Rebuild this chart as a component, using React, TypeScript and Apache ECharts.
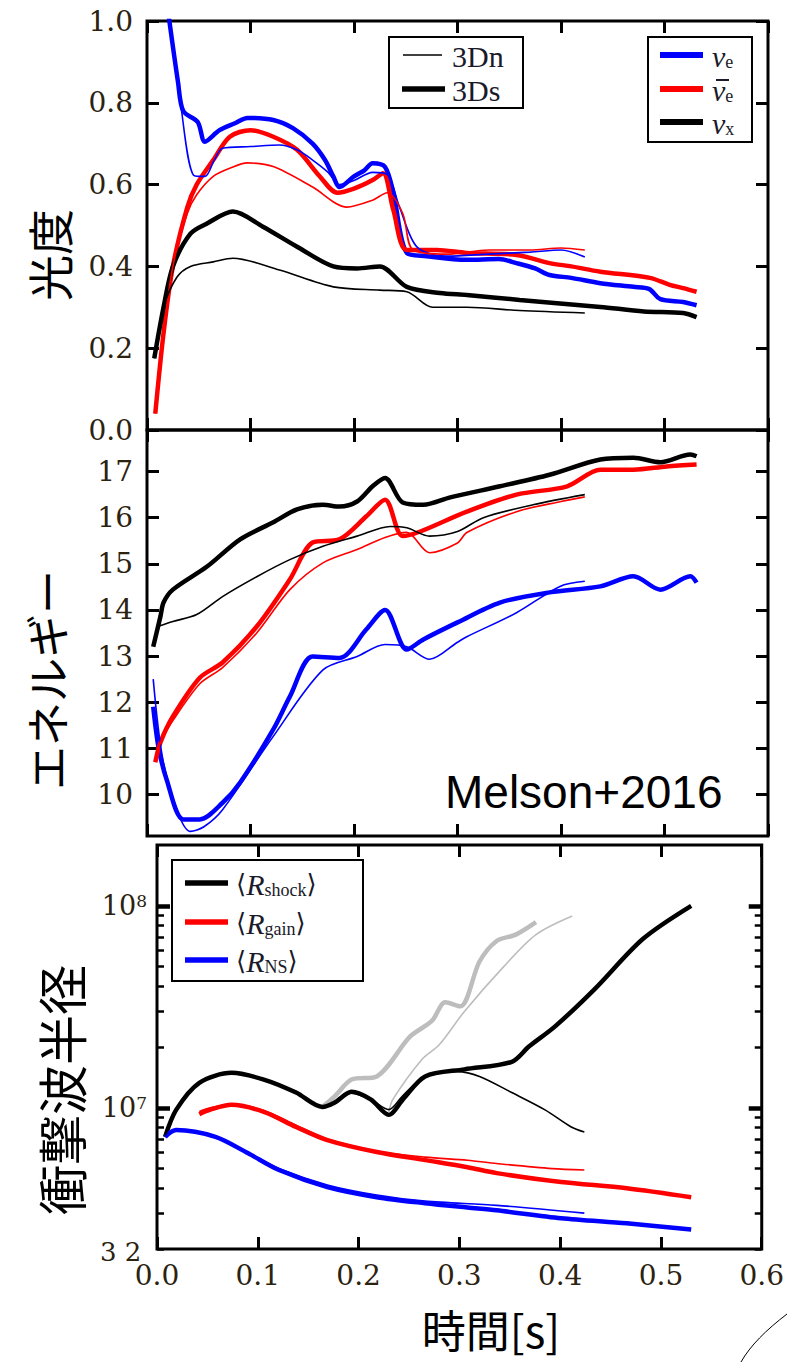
import React, { useEffect, useRef } from 'react';
import * as echarts from 'echarts';

// ---------- axis ticks ----------
const timeTicks = [0, 0.1, 0.2, 0.3, 0.4, 0.5, 0.6];
const energyTicks = [10, 11, 12, 13, 14, 15, 16, 17];
const radiusMajor = [7, 8]; // log10 of 1e7, 1e8
const radiusMinorFactors = [2, 3, 4, 5, 6, 7, 8, 9];

// ---------- luminosity panel ----------
const lumNueThickT = [0.020,0.030,0.035,0.049,0.056,0.070,0.085,0.097,0.122,0.141,0.160,0.172,0.180,0.186,0.200,0.210,0.218,0.230,0.238,0.251,0.270,0.309,0.340,0.357,0.375,0.389,0.410,0.438,0.470,0.485,0.496,0.518,0.531];
const lumNueThickV = [1.03,0.85,0.78,0.753,0.705,0.733,0.750,0.763,0.758,0.738,0.700,0.660,0.620,0.594,0.620,0.635,0.652,0.643,0.580,0.433,0.425,0.416,0.418,0.408,0.395,0.379,0.372,0.359,0.350,0.345,0.320,0.313,0.305];
const lumNueThinT = [0.020,0.032,0.045,0.056,0.065,0.073,0.100,0.128,0.145,0.160,0.175,0.186,0.200,0.218,0.232,0.244,0.261,0.290,0.330,0.370,0.400,0.423];
const lumNueThinV = [1.03,0.807,0.623,0.620,0.660,0.689,0.693,0.697,0.685,0.660,0.630,0.600,0.610,0.630,0.625,0.545,0.447,0.425,0.430,0.435,0.440,0.423];
const lumNuebThickT = [0.008,0.016,0.025,0.039,0.048,0.064,0.080,0.100,0.122,0.145,0.167,0.184,0.200,0.218,0.228,0.238,0.251,0.280,0.309,0.357,0.389,0.410,0.438,0.486,0.505,0.518,0.531];
const lumNuebThickV = [0.04,0.237,0.40,0.545,0.60,0.66,0.717,0.733,0.717,0.685,0.62,0.58,0.59,0.611,0.628,0.538,0.44,0.44,0.433,0.428,0.408,0.40,0.387,0.372,0.355,0.347,0.338];
const lumNuebThinT = [0.008,0.016,0.025,0.039,0.048,0.064,0.080,0.097,0.122,0.160,0.193,0.218,0.232,0.247,0.257,0.290,0.330,0.370,0.400,0.423];
const lumNuebThinV = [0.04,0.237,0.40,0.53,0.575,0.62,0.64,0.653,0.644,0.594,0.545,0.562,0.58,0.53,0.44,0.43,0.44,0.44,0.445,0.44];
const lumNuxThickT = [0.007,0.016,0.025,0.042,0.058,0.083,0.112,0.145,0.180,0.203,0.225,0.251,0.283,0.309,0.360,0.438,0.480,0.518,0.531];
const lumNuxThickV = [0.175,0.30,0.40,0.48,0.505,0.534,0.497,0.448,0.40,0.395,0.40,0.35,0.335,0.33,0.318,0.301,0.29,0.286,0.276];
const lumNuxThinT = [0.007,0.016,0.029,0.042,0.064,0.083,0.128,0.180,0.225,0.251,0.276,0.309,0.360,0.423];
const lumNuxThinV = [0.175,0.30,0.374,0.40,0.411,0.42,0.391,0.35,0.342,0.338,0.30,0.30,0.292,0.286];

// ---------- mean energy panel ----------
const enNueThickT = [0.006,0.011,0.019,0.035,0.051,0.073,0.090,0.122,0.138,0.160,0.186,0.212,0.230,0.251,0.267,0.300,0.341,0.389,0.438,0.470,0.496,0.525,0.531];
const enNueThickV = [11.9,11.04,10.32,9.46,9.46,9.82,10.26,11.41,12.12,12.99,12.96,13.58,14.0,13.14,13.36,13.73,14.16,14.38,14.51,14.73,14.44,14.73,14.59];
const enNueThinT = [0.006,0.015,0.030,0.042,0.055,0.073,0.122,0.170,0.203,0.230,0.251,0.273,0.300,0.309,0.357,0.399,0.423];
const enNueThinV = [12.5,10.8,9.6,9.2,9.3,9.67,11.26,12.7,12.99,13.25,13.2,12.93,13.3,13.42,13.94,14.51,14.62];
const enNuebThickT = [0.008,0.013,0.025,0.051,0.073,0.106,0.138,0.160,0.186,0.212,0.230,0.247,0.264,0.309,0.357,0.406,0.438,0.470,0.502,0.531];
const enNuebThickV = [10.7,11.13,11.69,12.53,12.86,13.64,14.66,15.46,15.53,16.03,16.39,15.6,15.7,16.13,16.5,16.68,17.04,17.04,17.11,17.15];
const enNuebThinT = [0.008,0.013,0.025,0.051,0.073,0.106,0.138,0.170,0.203,0.230,0.251,0.273,0.300,0.309,0.357,0.400,0.423];
const enNuebThinV = [10.7,11.13,11.6,12.4,12.75,13.5,14.44,15.02,15.31,15.57,15.68,15.24,15.45,15.68,16.13,16.35,16.45];
const enNuxThickT = [0.006,0.013,0.016,0.025,0.058,0.090,0.122,0.145,0.170,0.186,0.203,0.218,0.230,0.247,0.267,0.293,0.341,0.389,0.438,0.470,0.496,0.525,0.531];
const enNuxThickV = [13.2,13.86,14.16,14.44,14.94,15.53,15.9,16.18,16.28,16.24,16.35,16.68,16.86,16.33,16.28,16.44,16.68,16.93,17.26,17.3,17.2,17.37,17.33];
const enNuxThinT = [0.010,0.025,0.048,0.073,0.106,0.138,0.170,0.203,0.235,0.251,0.273,0.300,0.325,0.373,0.423];
const enNuxThinV = [13.64,13.75,13.9,14.29,14.72,15.09,15.38,15.6,15.81,15.78,15.6,15.7,16.0,16.28,16.5];

// ---------- radius panel ----------
const rShockThickT = [0.008,0.019,0.042,0.074,0.106,0.138,0.164,0.176,0.193,0.212,0.230,0.244,0.266,0.305,0.352,0.369,0.395,0.434,0.482,0.530];
const rShockThickV = [7.18e6,9.77e6,1.33e7,1.49e7,1.38e7,1.19e7,1.01e7,1.06e7,1.20e7,1.10e7,9.23e6,1.10e7,1.43e7,1.55e7,1.69e7,2.01e7,2.53e7,3.86e7,6.85e7,1.0e8];
const rShockThinT = [0.008,0.019,0.042,0.074,0.106,0.138,0.164,0.176,0.193,0.212,0.230,0.244,0.266,0.298,0.320,0.352,0.385,0.411,0.424];
const rShockThinV = [7.18e6,9.77e6,1.33e7,1.49e7,1.38e7,1.19e7,1.01e7,1.06e7,1.18e7,1.10e7,9.8e6,1.15e7,1.43e7,1.51e7,1.43e7,1.19e7,9.77e6,8.04e6,7.59e6];
const rGrayThickT = [0.164,0.176,0.193,0.218,0.251,0.273,0.286,0.301,0.320,0.337,0.356,0.376];
const rGrayThickV = [1.01e7,1.135e7,1.38e7,1.43e7,2.25e7,2.7e7,3.33e7,3.18e7,5.3e7,6.7e7,7.2e7,8.3e7];
const rGrayThinT = [0.230,0.234,0.263,0.280,0.305,0.344,0.376,0.412];
const rGrayThinV = [9.5e6,1.1e7,1.74e7,2.05e7,3.0e7,5.0e7,7.2e7,8.9e7];
const rGainThickT = [0.042,0.053,0.074,0.106,0.138,0.169,0.218,0.266,0.308,0.337,0.401,0.466,0.530];
const rGainThickV = [9.3e6,9.8e6,1.035e7,9.55e6,8.04e6,6.92e6,6.04e6,5.51e6,5.08e6,4.75e6,4.29e6,4.0e6,3.61e6];
const rGainThinT = [0.042,0.053,0.074,0.106,0.138,0.169,0.218,0.266,0.308,0.337,0.392,0.424];
const rGainThinV = [9.6e6,1.0e7,1.04e7,9.7e6,8.2e6,7.0e6,6.1e6,5.7e6,5.5e6,5.3e6,5.0e6,4.92e6];
const rNsThickT = [0.008,0.019,0.058,0.090,0.121,0.169,0.218,0.266,0.308,0.337,0.401,0.466,0.530];
const rNsThickV = [7.18e6,7.76e6,7.18e6,5.97e6,4.92e6,4.05e6,3.61e6,3.37e6,3.21e6,3.11e6,2.84e6,2.68e6,2.50e6];
const rNsThinT = [0.008,0.019,0.058,0.090,0.121,0.169,0.218,0.266,0.337,0.424];
const rNsThinV = [7.18e6,7.76e6,7.2e6,6.0e6,5.0e6,4.15e6,3.7e6,3.45e6,3.29e6,3.01e6];

const BLUE = '#0000ff';
const RED = '#ff0000';
const BLACK = '#000000';
const GRAY = '#bdbdbd';
const LABEL = '#2b2210';
const INK = '#1a1a2a';
const SERIF = 'DejaVu Serif';
const CJK = 'Noto Sans CJK JP';
const THICK = 4.5;
const THIN = 1.6;

const zip = (t: number[], v: number[]) => t.map((x, i) => [x, v[i]]);

const tick = (len = 12, w = 3, extra: any = {}) => ({
  show: true, inside: true, length: len, lineStyle: { color: BLACK, width: w }, ...extra,
});

const baseAxis = (extra: any) => ({
  type: 'value',
  axisLine: { show: false, onZero: false },
  splitLine: { show: false },
  axisLabel: { show: false },
  ...extra,
});

function buildOption() {
  const grids = [
    { left: 147, top: 21, width: 621, height: 409 },
    { left: 147, top: 430, width: 621, height: 406 },
    { left: 157, top: 845, width: 623, height: 404 },
  ].map((g) => ({ ...g, show: true, borderColor: BLACK, borderWidth: 3, backgroundColor: 'transparent', containLabel: false }));

  const xAxes: any[] = [];
  for (let g = 0; g < 3; g++) {
    const common = { gridIndex: g, min: 0, max: 0.6, interval: 0.1 };
    xAxes.push(baseAxis({
      ...common, position: 'bottom', axisTick: tick(12, 3),
      axisLabel: g === 2
        ? { show: true, customValues: timeTicks, formatter: (v: number) => v.toFixed(1), fontFamily: SERIF, fontSize: 28, color: LABEL, margin: 12 }
        : { show: false },
    }));
    xAxes.push(baseAxis({ ...common, position: 'top', axisTick: tick(12, 3) }));
  }

  const radMinorVals: number[] = [];
  [6, 7].forEach((e) => radiusMinorFactors.forEach((k) => radMinorVals.push(Math.log10(k) + e)));
  const lgMin = Math.log10(2e6);
  const lgMax = Math.log10(2e8);

  const yAxes: any[] = [
    // 0,1: luminosity
    baseAxis({ gridIndex: 0, min: 0, max: 1, interval: 0.2, position: 'left', axisTick: tick(12, 3),
      axisLabel: { show: true, formatter: (v: number) => v.toFixed(1), fontFamily: SERIF, fontSize: 28, color: LABEL, margin: 14 } }),
    baseAxis({ gridIndex: 0, min: 0, max: 1, interval: 0.2, position: 'right', axisTick: tick(12, 3) }),
    // 2,3: energy
    baseAxis({ gridIndex: 1, min: 9.1, max: 17.9, position: 'left', axisTick: tick(12, 3, { customValues: energyTicks }),
      axisLabel: { show: true, customValues: energyTicks, fontFamily: SERIF, fontSize: 28, color: LABEL, margin: 14 } }),
    baseAxis({ gridIndex: 1, min: 9.1, max: 17.9, position: 'right', axisTick: tick(12, 3, { customValues: energyTicks }) }),
    // 4: radius data axis (log)
    { type: 'log', logBase: 10, gridIndex: 2, min: 2e6, max: 2e8, position: 'left',
      axisLine: { show: false, onZero: false }, axisTick: { show: false }, axisLabel: { show: false }, splitLine: { show: false } },
    // 5,6: left major/minor ticks in log10 space
    baseAxis({ gridIndex: 2, min: lgMin, max: lgMax, position: 'left', axisTick: tick(13, 4.5, { customValues: radiusMajor }),
      axisLabel: { show: true, customValues: radiusMajor, margin: 10,
        formatter: (v: number) => `{b|10}{s|${Math.round(v)}}`,
        rich: {
          b: { fontFamily: SERIF, fontSize: 27, color: LABEL },
          s: { fontFamily: SERIF, fontSize: 17, color: LABEL, verticalAlign: 'top' },
        } } }),
    baseAxis({ gridIndex: 2, min: lgMin, max: lgMax, position: 'left', axisTick: tick(7, 2.5, { customValues: radMinorVals }) }),
    // 7,8: right
    baseAxis({ gridIndex: 2, min: lgMin, max: lgMax, position: 'right', axisTick: tick(13, 4.5, { customValues: radiusMajor }) }),
    baseAxis({ gridIndex: 2, min: lgMin, max: lgMax, position: 'right', axisTick: tick(7, 2.5, { customValues: radMinorVals }) }),
  ];

  const line = (name: string, panel: number, t: number[], v: number[], color: string, width: number) => ({
    name, type: 'line', xAxisIndex: panel * 2, yAxisIndex: panel === 2 ? 4 : panel * 2, data: zip(t, v),
    showSymbol: false, symbol: 'none', smooth: 0.3, clip: true, silent: true,
    lineStyle: { color, width }, itemStyle: { color }, z: width > 3 ? 2 : 3,
    emphasis: { disabled: true },
  });

  const series = [
    line('νe 3Ds L', 0, lumNueThickT, lumNueThickV, BLUE, THICK),
    line('anti-νe 3Ds L', 0, lumNuebThickT, lumNuebThickV, RED, THICK),
    line('νx 3Ds L', 0, lumNuxThickT, lumNuxThickV, BLACK, THICK),
    line('νe 3Dn L', 0, lumNueThinT, lumNueThinV, BLUE, THIN),
    line('anti-νe 3Dn L', 0, lumNuebThinT, lumNuebThinV, RED, THIN),
    line('νx 3Dn L', 0, lumNuxThinT, lumNuxThinV, BLACK, THIN),
    line('νe 3Ds E', 1, enNueThickT, enNueThickV, BLUE, THICK),
    line('anti-νe 3Ds E', 1, enNuebThickT, enNuebThickV, RED, THICK),
    line('νx 3Ds E', 1, enNuxThickT, enNuxThickV, BLACK, THICK),
    line('νe 3Dn E', 1, enNueThinT, enNueThinV, BLUE, THIN),
    line('anti-νe 3Dn E', 1, enNuebThinT, enNuebThinV, RED, THIN),
    line('νx 3Dn E', 1, enNuxThinT, enNuxThinV, BLACK, THIN),
    line('gray 3Ds', 2, rGrayThickT, rGrayThickV, GRAY, THICK),
    line('gray 3Dn', 2, rGrayThinT, rGrayThinV, GRAY, THIN),
    line('Rshock 3Ds', 2, rShockThickT, rShockThickV, BLACK, THICK),
    line('Rgain 3Ds', 2, rGainThickT, rGainThickV, RED, THICK),
    line('RNS 3Ds', 2, rNsThickT, rNsThickV, BLUE, THICK),
    line('Rshock 3Dn', 2, rShockThinT, rShockThinV, BLACK, THIN),
    line('Rgain 3Dn', 2, rGainThinT, rGainThinV, RED, THIN),
    line('RNS 3Dn', 2, rNsThinT, rNsThinV, BLUE, THIN),
  ];

  const legRich = {
    n: { fontFamily: 'Liberation Serif', fontSize: 30, fontStyle: 'italic', fill: INK },
    s: { fontFamily: 'Liberation Serif', fontSize: 18, fill: INK, verticalAlign: 'bottom' },
    b: { fontFamily: SERIF, fontSize: 26, fill: INK },
  };

  const box = (x: number, y: number, w: number, h: number) => ({
    type: 'rect', z: 100, silent: true, shape: { x, y, width: w, height: h },
    style: { fill: '#ffffff', stroke: BLACK, lineWidth: 2 },
  });
  const seg = (x1: number, x2: number, y: number, color: string, w: number, z = 101) => ({
    type: 'line', z, silent: true, shape: { x1, y1: y, x2, y2: y }, style: { stroke: color, lineWidth: w },
  });
  const rtext = (x: number, y: number, text: string) => ({
    type: 'text', z: 101, silent: true, x, y,
    style: { text, rich: legRich, align: 'left', verticalAlign: 'middle', fill: INK },
  });
  const vname = (x: number, y: number, text: string, size: number) => ({
    type: 'text', z: 101, silent: true, x, y, rotation: Math.PI / 2,
    style: { text, fontFamily: CJK, fontSize: size, fill: BLACK, align: 'center', verticalAlign: 'middle' },
  });

  const graphic = [
    // legend: model
    box(389, 37, 134, 71),
    seg(403, 442, 55, BLACK, 1.5),
    seg(402, 445, 89, BLACK, 5.5),
    { type: 'text', z: 101, silent: true, x: 452, y: 56, style: { text: '3Dn', fontFamily: 'Liberation Serif', fontSize: 30, fill: INK, verticalAlign: 'middle' } },
    { type: 'text', z: 101, silent: true, x: 452, y: 90, style: { text: '3Ds', fontFamily: 'Liberation Serif', fontSize: 30, fill: INK, verticalAlign: 'middle' } },
    // legend: flavour
    box(648, 37, 104, 105),
    seg(660, 703, 55, BLUE, 6),
    seg(660, 703, 89, RED, 6),
    seg(660, 703, 122, BLACK, 6),
    rtext(712, 56, '{n|ν}{s|e}'),
    rtext(712, 90, '{n|ν}{s|e}'),
    seg(716, 729, 80, INK, 2, 102), // bar over ν (anti-neutrino)
    rtext(712, 123, '{n|ν}{s|x}'),
    // legend: radii
    box(172, 860, 191, 121),
    seg(185, 228, 883, BLACK, 5.5),
    seg(185, 228, 922, RED, 5.5),
    seg(185, 228, 960, BLUE, 5.5),
    rtext(236, 884, '{b|⟨}{n|R}{s|shock}{b|⟩}'),
    rtext(236, 923, '{b|⟨}{n|R}{s|gain}{b|⟩}'),
    rtext(236, 961, '{b|⟨}{n|R}{s|NS}{b|⟩}'),
    // axis titles
    vname(48, 255, '光度', 46),
    vname(46, 680, 'エネルギー', 44),
    vname(60, 1090, '衝撃波半径', 50),
    { type: 'text', z: 101, silent: true, x: 491, y: 1329,
      style: { text: '時間[s]', fontFamily: CJK, fontSize: 44, fill: BLACK, align: 'center', verticalAlign: 'middle' } },
    { type: 'text', z: 101, silent: true, x: 445, y: 792,
      style: { text: 'Melson+2016', fontFamily: 'Liberation Sans', fontSize: 46, fill: BLACK, align: 'left', verticalAlign: 'middle' } },
    { type: 'text', z: 101, silent: true, x: 100, y: 1252,
      style: { text: '3 2', fontFamily: SERIF, fontSize: 26, fill: LABEL, align: 'left', verticalAlign: 'middle' } },
    { type: 'bezierCurve', z: 101, silent: true,
      shape: { x1: 787, y1: 1314, x2: 741, y2: 1362, cpx1: 766, cpy1: 1330, cpx2: 750, cpy2: 1346 },
      style: { stroke: BLACK, lineWidth: 1, fill: 'none' } },
  ];

  return {
    animation: false,
    backgroundColor: '#ffffff',
    grid: grids,
    xAxis: xAxes,
    yAxis: yAxes,
    series,
    graphic,
  };
}

export default function App() {
  const ref = useRef<HTMLDivElement>(null);
  useEffect(() => {
    if (!ref.current) return;
    const chart = echarts.init(ref.current, null, { renderer: 'svg' });
    chart.setOption(buildOption() as any);
    return () => chart.dispose();
  }, []);
  return <div ref={ref} style={{ position: 'absolute', left: 0, top: 0, width: 787, height: 1362 }} />;
}
